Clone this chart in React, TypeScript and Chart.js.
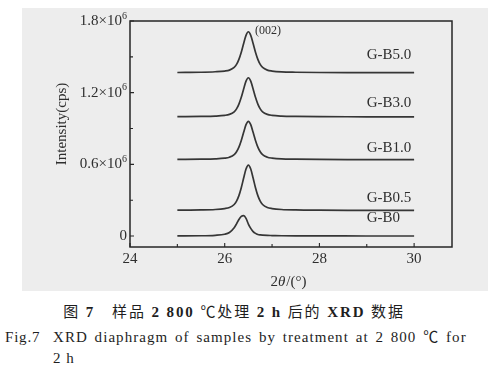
import React, { useEffect, useRef } from "react";
import { Chart, registerables } from "chart.js";

Chart.register(...registerables);

// 2θ positions (degrees) at which intensities were read
const twoTheta = [25.0, 25.5, 25.8, 26.0, 26.1, 26.2, 26.25, 26.3, 26.35, 26.4, 26.45, 26.5, 26.55, 26.6, 26.65, 26.7, 26.75, 26.8, 26.9, 27.0, 27.2, 27.5, 28.0, 29.0, 30.0];

// Intensities in units of 10^6 cps (curves are offset vertically as in the figure)
const intensityGB0 = [0.001, 0.002, 0.006, 0.015, 0.03, 0.07, 0.102, 0.138, 0.164, 0.17, 0.148, 0.1, 0.064, 0.037, 0.022, 0.013, 0.009, 0.007, 0.005, 0.004, 0.002, 0.001, 0.001, 0.0, 0.0];
const intensityGB05 = [0.216, 0.218, 0.222, 0.23, 0.239, 0.264, 0.292, 0.338, 0.404, 0.485, 0.561, 0.594, 0.561, 0.485, 0.404, 0.338, 0.292, 0.264, 0.239, 0.23, 0.222, 0.218, 0.216, 0.215, 0.214];
const intensityGB10 = [0.641, 0.643, 0.646, 0.652, 0.66, 0.681, 0.705, 0.744, 0.8, 0.868, 0.932, 0.96, 0.932, 0.868, 0.8, 0.744, 0.705, 0.681, 0.66, 0.652, 0.645, 0.643, 0.641, 0.64, 0.639];
const intensityGB30 = [0.999, 1.001, 1.004, 1.01, 1.018, 1.04, 1.064, 1.104, 1.161, 1.231, 1.297, 1.325, 1.297, 1.231, 1.161, 1.104, 1.064, 1.04, 1.018, 1.01, 1.004, 1.001, 0.999, 0.998, 0.997];
const intensityGB50 = [1.369, 1.371, 1.375, 1.381, 1.389, 1.412, 1.437, 1.479, 1.539, 1.612, 1.68, 1.71, 1.68, 1.612, 1.539, 1.479, 1.437, 1.412, 1.389, 1.381, 1.374, 1.371, 1.369, 1.368, 1.367];

const seriesNames = ["G-B0", "G-B0.5", "G-B1.0", "G-B3.0", "G-B5.0"];
const seriesValues = [intensityGB0, intensityGB05, intensityGB10, intensityGB30, intensityGB50];
const seriesLabelX = 29.0;
const seriesLabelY = [0.152, 0.317, 0.737, 1.109, 1.514];

const peakName = "(002)";
const peakLabelX = 26.64;
const peakLabelY = 1.72;

const xMin = 24;
const xMax = 30.8;
const yMin = -0.092;
const yMax = 1.8;
const xMajorTicks = [24, 26, 28, 30];
const xMinorTicks = [25, 27, 29];
const yMajorTicks = [0, 0.6, 1.2, 1.8];
const yTickText = ["0", "0.6×10", "1.2×10", "1.8×10"];
const yTickExp = ["", "6", "6", "6"];
const yMinorTicks = [0.3, 0.9, 1.5];

const xTitleParts = ["2", "θ", "/(°)"];
const yTitle = "Intensity(cps)";

const SERIF = '"Liberation Serif", "DejaVu Serif", serif';
const INK = "#2e2e2e";

const decorPlugin = {
  id: "decor",
  afterDraw(chart: any) {
    const { ctx, chartArea: a, scales } = chart;
    const xs = scales.x;
    const ys = scales.y;
    ctx.save();
    // frame
    ctx.strokeStyle = "#262626";
    ctx.lineWidth = 1.5;
    ctx.strokeRect(a.left, a.top, a.right - a.left, a.bottom - a.top);
    // ticks (inward)
    ctx.lineWidth = 1.1;
    ctx.beginPath();
    xMajorTicks.forEach((v) => {
      const p = xs.getPixelForValue(v);
      ctx.moveTo(p, a.bottom);
      ctx.lineTo(p, a.bottom - 4);
    });
    xMinorTicks.forEach((v) => {
      const p = xs.getPixelForValue(v);
      ctx.moveTo(p, a.bottom);
      ctx.lineTo(p, a.bottom - 3);
    });
    yMajorTicks.forEach((v) => {
      const p = ys.getPixelForValue(v);
      ctx.moveTo(a.left, p);
      ctx.lineTo(a.left + 4, p);
    });
    yMinorTicks.forEach((v) => {
      const p = ys.getPixelForValue(v);
      ctx.moveTo(a.left, p);
      ctx.lineTo(a.left + 3, p);
    });
    ctx.stroke();

    ctx.fillStyle = INK;
    ctx.textBaseline = "middle";
    // x tick labels
    ctx.font = `15px ${SERIF}`;
    ctx.textAlign = "center";
    xMajorTicks.forEach((v) => {
      ctx.fillText(String(v), xs.getPixelForValue(v), a.bottom + 12);
    });
    // y tick labels with superscript exponent
    yMajorTicks.forEach((v, i) => {
      const p = ys.getPixelForValue(v);
      const right = a.left - 3;
      ctx.font = `10px ${SERIF}`;
      const ew = yTickExp[i] ? ctx.measureText(yTickExp[i]).width : 0;
      ctx.font = `15px ${SERIF}`;
      ctx.textAlign = "right";
      ctx.fillText(yTickText[i], right - ew, p);
      if (yTickExp[i]) {
        ctx.font = `10px ${SERIF}`;
        ctx.textAlign = "left";
        ctx.fillText(yTickExp[i], right - ew, p - 5);
      }
    });
    // x title
    ctx.font = `15px ${SERIF}`;
    ctx.textAlign = "left";
    const cx = (a.left + a.right) / 2 - 3;
    const w0 = ctx.measureText(xTitleParts[0]).width;
    ctx.font = `italic 15px ${SERIF}`;
    const w1 = ctx.measureText(xTitleParts[1]).width;
    ctx.font = `15px ${SERIF}`;
    const w2 = ctx.measureText(xTitleParts[2]).width;
    let tx = cx - (w0 + w1 + w2) / 2;
    const ty = a.bottom + 35;
    ctx.fillText(xTitleParts[0], tx, ty);
    tx += w0;
    ctx.font = `italic 15px ${SERIF}`;
    ctx.fillText(xTitleParts[1], tx, ty);
    tx += w1 + 1;
    ctx.font = `15px ${SERIF}`;
    ctx.fillText(xTitleParts[2], tx, ty);
    // y title
    ctx.save();
    ctx.translate(a.left - 68, (a.top + a.bottom) / 2 - 10);
    ctx.rotate(-Math.PI / 2);
    ctx.textAlign = "center";
    ctx.font = `15px ${SERIF}`;
    ctx.fillText(yTitle, 0, 0);
    ctx.restore();
    // series labels
    ctx.font = `15px ${SERIF}`;
    ctx.textAlign = "left";
    seriesNames.forEach((n, i) => {
      ctx.fillText(n, xs.getPixelForValue(seriesLabelX), ys.getPixelForValue(seriesLabelY[i]));
    });
    // peak label
    ctx.font = `12px ${SERIF}`;
    ctx.fillText(peakName, xs.getPixelForValue(peakLabelX), ys.getPixelForValue(peakLabelY));
    ctx.restore();
  },
};

function XrdChart() {
  const ref = useRef<HTMLCanvasElement | null>(null);
  useEffect(() => {
    if (!ref.current) return;
    const chart = new Chart(ref.current, {
      type: "line",
      data: {
        datasets: seriesValues.map((vals, i) => ({
          label: seriesNames[i],
          data: twoTheta.map((x, j) => ({ x, y: vals[j] })),
          borderColor: "#363636",
          borderWidth: 1.7,
          pointRadius: 0,
          fill: false,
          cubicInterpolationMode: "monotone" as const,
        })),
      },
      options: {
        responsive: false,
        maintainAspectRatio: false,
        animation: false,
        layout: { padding: { left: 108, right: 36, top: 13, bottom: 44 } },
        plugins: { legend: { display: false }, tooltip: { enabled: false } },
        scales: {
          x: { type: "linear", min: xMin, max: xMax, display: false },
          y: { type: "linear", min: yMin, max: yMax, display: false },
        },
      },
      plugins: [decorPlugin],
    });
    return () => chart.destroy();
  }, []);
  return <canvas ref={ref} width={466} height={283} style={{ display: "block" }} />;
}

export default function App() {
  const capFont = '"Liberation Serif", "Noto Sans CJK SC", serif';
  return (
    <div style={{ position: "absolute", left: 0, top: 0, width: 498, height: 376, background: "#fff", overflow: "hidden", color: "#1e1e1e" }}>
      <div style={{ position: "absolute", left: 22, top: 8, width: 466, height: 283, background: "#ededed" }}>
        <XrdChart />
      </div>
      <div style={{ position: "absolute", left: 0, top: 302, width: 468, textAlign: "center", fontFamily: capFont, fontSize: 15, lineHeight: "20px", whiteSpace: "nowrap", letterSpacing: 1.9 }}>
        图 <b>7</b>{"\u3000"}样品 <b>2 800</b> ℃处理 <b>2 h</b> 后的 <b>XRD</b> 数据
      </div>
      <div style={{ position: "absolute", left: 5, top: 327, fontFamily: capFont, fontSize: 15, lineHeight: "20px", whiteSpace: "nowrap", letterSpacing: 0.8 }}>Fig.7</div>
      <div style={{ position: "absolute", left: 53, top: 327, fontFamily: capFont, fontSize: 15, lineHeight: "20px", whiteSpace: "nowrap", letterSpacing: 1.05, wordSpacing: 2 }}>
        XRD diaphragm of samples by treatment at 2 800 ℃ for
      </div>
      <div style={{ position: "absolute", left: 53, top: 348, fontFamily: capFont, fontSize: 15, lineHeight: "20px", whiteSpace: "nowrap", letterSpacing: 1 }}>2 h</div>
    </div>
  );
}
